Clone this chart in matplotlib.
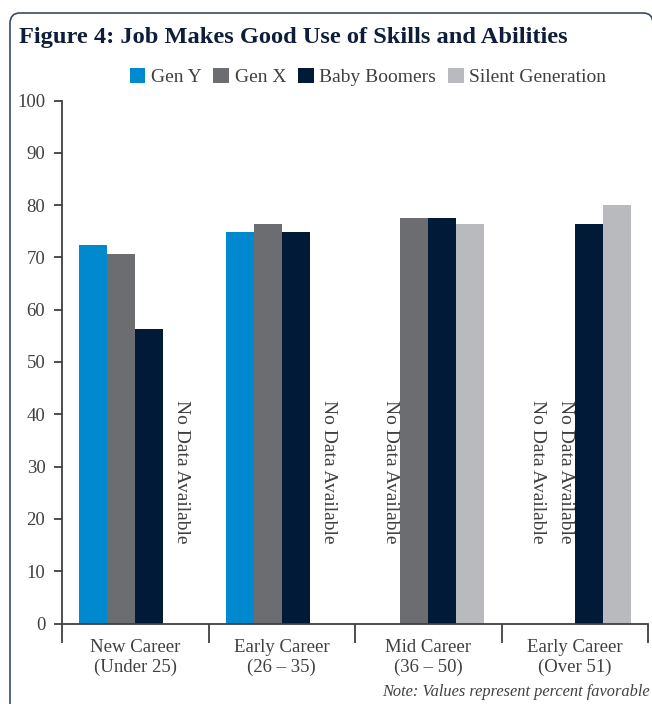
import matplotlib
matplotlib.use("Agg")
import matplotlib.pyplot as plt
from matplotlib.patches import FancyBboxPatch, Patch
import numpy as np

categories = ["New Career\n(Under 25)", "Early Career\n(26 \u2013 35)", "Mid Career\n(36 \u2013 50)", "Early Career\n(Over 51)"]
series_names = ["Gen Y", "Gen X", "Baby Boomers", "Silent Generation"]
gen_y = [72.4, 74.8, None, None]
gen_x = [70.7, 76.3, 77.5, None]
boomers = [56.4, 74.8, 77.5, 76.3]
silent = [None, None, 76.3, 80.0]
colors = ["#0089CF", "#6C6D71", "#001A38", "#B9BABE"]
no_data_label = "No Data Available"
y_ticks = [0, 10, 20, 30, 40, 50, 60, 70, 80, 90, 100]

plt.rcParams['font.family'] = ['Liberation Serif', 'DejaVu Serif']

fig = plt.figure(figsize=(6.52, 7.04), dpi=100)
W, H = 652, 704
ax = fig.add_axes([62 / W, 1 - 623.5 / H, (648 - 62) / W, (623.5 - 100.5) / H])

series = [gen_y, gen_x, boomers, silent]
bw = 0.191
x = np.arange(len(categories))
for i, (vals, col) in enumerate(zip(series, colors)):
    off = (i - 1.5) * bw
    for j, v in enumerate(vals):
        if v is None:
            ax.text(x[j] + off + 0.03, 29, no_data_label, rotation=-90, ha='center', va='center',
                    fontsize=14, color='#404040')
        else:
            ax.bar(x[j] + off, v, width=bw, color=col, linewidth=0)

ax.set_xlim(-0.5, 3.5)
ax.set_ylim(0, 100)
ax.set_yticks(y_ticks)
ax.set_yticklabels([str(t) for t in y_ticks], fontsize=13.5, color='#404040')
ax.set_xticks([-0.5, 0.5, 1.5, 2.5, 3.5])
ax.set_xticklabels([])
ax.set_xticks(x, minor=True)
ax.set_xticklabels(categories, minor=True, fontsize=13.5, color='#404040', linespacing=1.2)
ax.tick_params(axis='x', which='major', length=14, width=1.3, color='#404040', direction='out')
ax.tick_params(axis='x', which='minor', length=0, pad=11)
ax.tick_params(axis='y', length=6, width=1.3, color='#404040', pad=6)
for s in ['top', 'right']:
    ax.spines[s].set_visible(False)
for s in ['left', 'bottom']:
    ax.spines[s].set_color('#404040')
    ax.spines[s].set_linewidth(1.3)

# border
border = FancyBboxPatch((10 / W, -0.05), (653 - 10) / W, (1 - 13 / H) + 0.05,
                        boxstyle="round,pad=0,rounding_size=0.015", transform=fig.transFigure,
                        fill=False, edgecolor='#3A4A62', linewidth=1.2, clip_on=False)
fig.patches.append(border)

fig.text(19 / W, 1 - 37 / H, "Figure 4: Job Makes Good Use of Skills and Abilities", fontsize=17.6,
         fontweight='bold', color='#0E1E3A', va='center', ha='left')

handles = [Patch(facecolor=c, edgecolor='none') for c in colors]
fig.legend(handles, series_names, loc='center', bbox_to_anchor=(368 / W, 1 - 77 / H), ncol=4,
           frameon=False, fontsize=14, handlelength=0.8, handleheight=0.8, handletextpad=0.3,
           columnspacing=0.6, labelcolor='#404040')

fig.text(650 / W, 1 - 692 / H, "Note: Values represent percent favorable", fontsize=11.8,
         style='italic', color='#404040', ha='right', va='center')

fig.savefig("out.png", dpi=100)
